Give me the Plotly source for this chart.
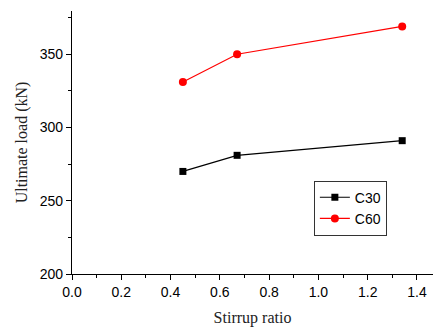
import plotly.graph_objects as go

stirrup_ratio = [0.45, 0.67, 1.34]
c30_load = [270, 281, 291]
c60_load = [331, 350, 369]
x_ticks = [0.0, 0.2, 0.4, 0.6, 0.8, 1.0, 1.2, 1.4]
y_ticks = [200, 250, 300, 350]

fig = go.Figure()
fig.add_trace(go.Scatter(x=stirrup_ratio, y=c30_load, name="C30", mode="lines+markers",
                         line=dict(color="black", width=1.2),
                         marker=dict(symbol="square", size=7, color="black")))
fig.add_trace(go.Scatter(x=stirrup_ratio, y=c60_load, name="C60", mode="lines+markers",
                         line=dict(color="red", width=1.2),
                         marker=dict(symbol="circle", size=8, color="red")))

axis_common = dict(showline=True, linecolor="black", linewidth=1.2, ticks="outside",
                   ticklen=5, tickwidth=1.2, tickcolor="black", showgrid=False, zeroline=False,
                   tickfont=dict(family="Liberation Sans, Arial", size=14, color="black"),
                   minor=dict(ticks="outside", ticklen=3, tickwidth=1, tickcolor="black"))

title_font = dict(family="Liberation Serif, Times New Roman", size=16, color="#222222")

fig.update_xaxes(range=[0, 1.465], tickvals=x_ticks, ticktext=[f"{v:.1f}" for v in x_ticks],
                 title=dict(text="Stirrup ratio", font=title_font, standoff=12),
                 **axis_common)
fig.update_xaxes(minor=dict(tickvals=[0.1, 0.3, 0.5, 0.7, 0.9, 1.1, 1.3]))
fig.update_yaxes(range=[200, 379.5], tickvals=y_ticks,
                 title=dict(text="Ultimate load (kN)", font=title_font, standoff=8),
                 **axis_common)
fig.update_yaxes(minor=dict(tickvals=[225, 275, 325, 375]))

fig.update_layout(width=434, height=330, margin=dict(l=72, r=1, t=11, b=56),
                  plot_bgcolor="white", paper_bgcolor="white",
                  legend=dict(x=0.67, y=0.355, xanchor="left", yanchor="top",
                              bordercolor="#333333", borderwidth=1, bgcolor="white",
                              font=dict(family="Liberation Sans, Arial", size=14, color="black"),
                              itemwidth=30, tracegroupgap=0))
fig.write_html("out.html")
